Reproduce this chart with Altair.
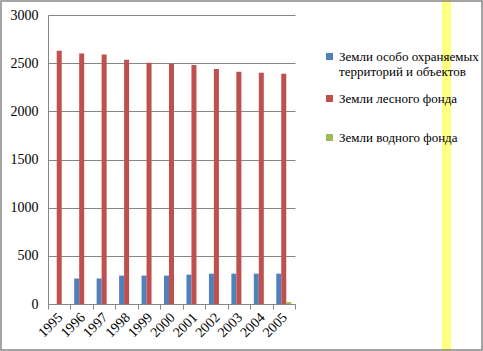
import altair as alt
import pandas as pd

years = ["1995", "1996", "1997", "1998", "1999", "2000", "2001", "2002", "2003", "2004", "2005"]
series_names = ["Земли особо охраняемых территорий и объектов", "Земли лесного фонда", "Земли водного фонда"]
protected = [0, 265, 265, 295, 295, 295, 305, 315, 315, 315, 315]
forest = [2630, 2600, 2590, 2535, 2505, 2495, 2480, 2440, 2410, 2400, 2390]
water = [0, 0, 0, 0, 0, 0, 0, 0, 0, 0, 20]
colors = ["#4F81BD", "#C0504D", "#9BBB59"]

rows = []
for vals, name in zip([protected, forest, water], series_names):
    for y, v in zip(years, vals):
        rows.append({"year": y, "series": name, "value": v})
df = pd.DataFrame(rows)

W, H = 247, 289
FONT = "Liberation Serif"

label_expr = (
    "indexof(datum.label, 'охраняемых') >= 0 ? "
    "['Земли особо охраняемых', 'территорий и объектов'] : datum.label"
)

bars = alt.Chart(df).mark_bar(size=5).encode(
    x=alt.X("year:N", sort=years, title=None,
            scale=alt.Scale(paddingInner=0, paddingOuter=0),
            axis=alt.Axis(labelAngle=-45, tickBand="extent", labelFont=FONT, labelFontSize=14,
                          labelColor="black", domainColor="#868686", tickColor="#868686",
                          tickSize=5, labelPadding=1, labelOffset=-4, grid=False)),
    xOffset=alt.XOffset("series:N", sort=series_names,
                        scale=alt.Scale(paddingInner=0, paddingOuter=0.75)),
    y=alt.Y("value:Q", title=None,
            scale=alt.Scale(domain=[0, 3000]),
            axis=alt.Axis(values=[0, 500, 1000, 1500, 2000, 2500, 3000], format="d",
                          labelFont=FONT, labelFontSize=14, labelColor="black",
                          domainColor="#868686", gridColor="#868686", ticks=False,
                          labelPadding=10)),
    color=alt.Color("series:N", sort=series_names,
                    scale=alt.Scale(domain=series_names, range=colors),
                    legend=alt.Legend(title=None, orient="none", legendX=275, legendY=22,
                                      symbolType="square", symbolSize=49, symbolStrokeWidth=0,
                                      labelFont=FONT, labelFontSize=13, labelColor="black",
                                      labelExpr=label_expr, labelLimit=300, clipHeight=39,
                                      rowPadding=0, labelOffset=3)),
)

stripe = alt.Chart(pd.DataFrame({"k": [0]})).mark_rect(color="#FFFF80").encode(
    x=alt.value(394), x2=alt.value(403), y=alt.value(-15), y2=alt.value(336)
)

frame = alt.Chart(pd.DataFrame({"k": [0]})).mark_rect(
    fill=None, stroke="#868686", strokeWidth=1.5
).encode(
    x=alt.value(-47), x2=alt.value(434), y=alt.value(-14), y2=alt.value(335)
)

chart = alt.layer(stripe, bars, frame).properties(
    width=W, height=H,
    autosize=alt.AutoSizeParams(type="none"),
    padding={"left": 48, "top": 15, "right": 483 - 48 - W, "bottom": 351 - 15 - H},
    background="white",
).configure_view(stroke=None)

chart.save("out.html", embed_options={"renderer": "svg", "actions": False})
